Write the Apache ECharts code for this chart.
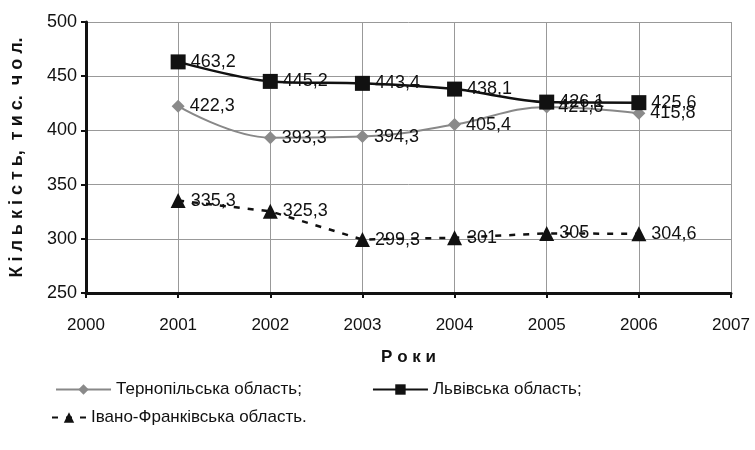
<!DOCTYPE html>
<html><head><meta charset="utf-8">
<script src="https://cdn.jsdelivr.net/npm/echarts@6/dist/echarts.min.js"></script>
<style>html,body{margin:0;padding:0;background:#fff}#c{width:755px;height:450px}</style>
</head><body><div id="c"></div>
<script>
const years = [2001, 2002, 2003, 2004, 2005, 2006];
const ternopil = [422.3, 393.3, 394.3, 405.4, 421.6, 415.8];
const lviv = [463.2, 445.2, 443.4, 438.1, 426.1, 425.6];
const ivano = [335.3, 325.3, 299.3, 301, 305, 304.6];
const names = ['Тернопільська область;', 'Львівська область;', 'Івано-Франківська область.'];

const pair = arr => years.map((y, i) => [y, arr[i]]);
const fmt = p => String(p.value[1]).replace('.', ',');
const lbl = {show: true, position: 'right', distance: 5, color: '#111', fontSize: 18,
  fontFamily: 'Liberation Sans, Arial, sans-serif', formatter: fmt};
const lt = {fontSize: 17, color: '#111', fontFamily: 'Liberation Sans Narrow, Arial Narrow, Liberation Sans, sans-serif'};

const chart = echarts.init(document.getElementById('c'));
chart.setOption({
  animation: false,
  textStyle: {fontFamily: 'Liberation Sans, Arial, sans-serif'},
  grid: {left: 84, right: 24, top: 22, bottom: 157},
  xAxis: {type: 'value', min: 2000, max: 2007, interval: 1,
    axisLine: {lineStyle: {color: '#111', width: 3}},
    axisTick: {show: true, inside: false, length: 5, lineStyle: {color: '#111', width: 2}},
    axisLabel: {color: '#111', fontSize: 17, margin: 24, formatter: v => String(v),
      fontFamily: 'Liberation Sans Narrow, Arial Narrow, Liberation Sans, sans-serif'},
    splitLine: {show: true, lineStyle: {color: '#999', width: 1}},
    name: 'Р о к и', nameLocation: 'middle', nameGap: 56,
    nameTextStyle: {fontSize: 17, fontWeight: 'bold', color: '#111'}},
  yAxis: {type: 'value', min: 250, max: 500, interval: 50,
    axisLine: {show: true, lineStyle: {color: '#111', width: 3}},
    axisTick: {show: true, length: 5, lineStyle: {color: '#111', width: 2}},
    axisLabel: {color: '#111', fontSize: 18, margin: 9},
    splitLine: {show: true, lineStyle: {color: '#999', width: 1}},
    name: 'К і л ь к і с т ь,  т и с.  ч о л.', nameLocation: 'middle', nameGap: 60,
    nameTextStyle: {fontSize: 18, fontWeight: 'bold', color: '#111'}},
  legend: [
    {data: [names[0], names[1]], left: 50, top: 376, itemWidth: 55, itemHeight: 13, itemGap: 70, textStyle: lt},
    {data: [names[2]], left: 46, top: 404, itemWidth: 34, itemHeight: 13, textStyle: lt}
  ],
  series: [
    {name: names[0], type: 'line', smooth: 0.4, data: pair(ternopil), symbol: 'diamond', symbolSize: 13,
      lineStyle: {color: '#888', width: 2}, itemStyle: {color: '#8a8a8a'}, label: lbl, z: 2},
    {name: names[1], type: 'line', smooth: 0.3, data: pair(lviv), symbol: 'rect', symbolSize: 15,
      lineStyle: {color: '#111', width: 2.5}, itemStyle: {color: '#111'}, label: lbl, z: 3},
    {name: names[2], type: 'line', data: pair(ivano), symbol: 'triangle', symbolSize: 15,
      lineStyle: {color: '#111', width: 2.5, type: [6, 8]}, itemStyle: {color: '#111'}, label: lbl, z: 3}
  ]
});
</script></body></html>
